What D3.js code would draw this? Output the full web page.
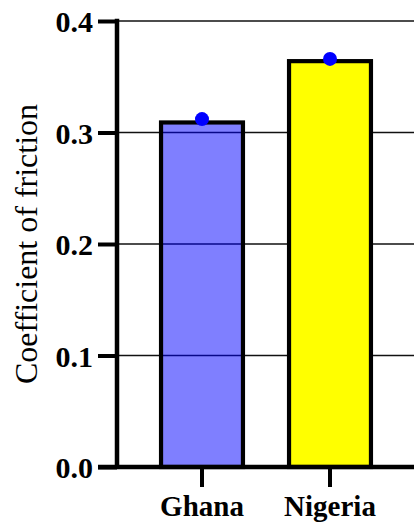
<!DOCTYPE html>
<html>
<head>
<meta charset="utf-8">
<script src="https://cdn.jsdelivr.net/npm/d3@7"></script>
<style>
  html, body { margin: 0; padding: 0; background: #fff; }
  svg { display: block; font-family: "Liberation Serif", "Times New Roman", serif; }
</style>
</head>
<body>
<svg id="chart" width="414" height="523"></svg>
<script>
const categories = ["Ghana", "Nigeria"];
const barValues = [0.309, 0.364];
const pointValues = [0.312, 0.366];
const yTicks = [0.0, 0.1, 0.2, 0.3, 0.4];
const yTickLabels = ["0.0", "0.1", "0.2", "0.3", "0.4"];
const barFills = ["rgba(0,0,255,0.5)", "#ffff00"];
const yLabel = "Coefficient of friction";

const svg = d3.select("#chart");
const W = 414, H = 523;
const x0 = 117, yTop = 21, yBot = 467;

const y = d3.scaleLinear().domain([0, 0.4]).range([yBot, yTop]);
const x = d3.scaleBand().domain(categories).range([138, 394]).paddingInner(0.36).paddingOuter(0.18);

// gridlines
svg.append("g").selectAll("line").data(yTicks.filter(d => d > 0)).join("line")
  .attr("x1", x0).attr("x2", W)
  .attr("y1", d => y(d)).attr("y2", d => y(d))
  .attr("stroke", "#111").attr("stroke-width", 1.3);

// bars
svg.append("g").selectAll("rect").data(categories).join("rect")
  .attr("x", d => x(d))
  .attr("width", x.bandwidth())
  .attr("y", (d, i) => y(barValues[i]))
  .attr("height", (d, i) => yBot - y(barValues[i]))
  .attr("fill", (d, i) => barFills[i])
  .attr("stroke", "#000").attr("stroke-width", 4.2);

// points
svg.append("g").selectAll("circle").data(categories).join("circle")
  .attr("cx", d => x(d) + x.bandwidth() / 2)
  .attr("cy", (d, i) => y(pointValues[i]))
  .attr("r", 7)
  .attr("fill", "#0000ff");

// y axis
const yAxis = d3.axisLeft(y).tickValues(yTicks).tickFormat((d, i) => yTickLabels[i])
  .tickSize(19).tickPadding(5);
const gy = svg.append("g").attr("transform", `translate(${x0},0)`).call(yAxis);
gy.select(".domain").remove();
gy.selectAll(".tick line").attr("stroke", "#000").attr("stroke-width", 4);
gy.selectAll(".tick text").attr("font-size", 30).attr("font-weight", "bold")
  .attr("fill", "#000").attr("font-family", "Liberation Serif, Times New Roman, serif").attr("dy", "0.36em");
svg.append("line").attr("x1", x0).attr("x2", x0).attr("y1", yTop - 2.2).attr("y2", yBot)
  .attr("stroke", "#000").attr("stroke-width", 4.5);

// x axis
const xAxis = d3.axisBottom(x).tickSize(20).tickPadding(8.5);
const gx = svg.append("g").attr("transform", `translate(0,${yBot})`).call(xAxis);
gx.select(".domain").remove();
gx.selectAll(".tick line").attr("stroke", "#000").attr("stroke-width", 4);
gx.selectAll(".tick text").attr("font-size", 29).attr("font-weight", "bold")
  .attr("fill", "#000").attr("font-family", "Liberation Serif, Times New Roman, serif");
svg.append("line").attr("x1", x0 - 19).attr("x2", W).attr("y1", yBot).attr("y2", yBot)
  .attr("stroke", "#000").attr("stroke-width", 4.5);

// y label
svg.append("text")
  .attr("transform", `translate(36.5,${(yTop + yBot) / 2}) rotate(-90)`)
  .attr("text-anchor", "middle")
  .attr("font-size", 32)
  .attr("fill", "#000")
  .text(yLabel);
</script>
</body>
</html>
